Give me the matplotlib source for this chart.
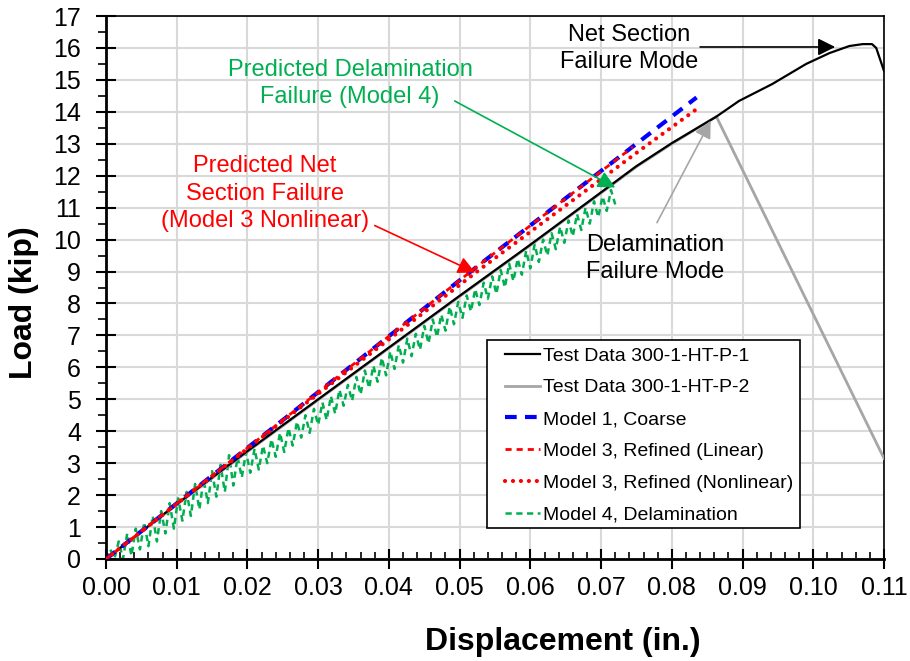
import matplotlib
matplotlib.use("Agg")
import matplotlib.pyplot as plt
from matplotlib.ticker import MultipleLocator, FormatStrFormatter
from matplotlib.patches import Rectangle

plt.rcParams['font.family'] = ['Liberation Sans', 'DejaVu Sans']

# ---- data ----
test1_x = [0, 0.01, 0.02, 0.03, 0.04, 0.05, 0.06, 0.07, 0.075, 0.08, 0.0863,
           0.0895, 0.0942, 0.099, 0.1023, 0.1051, 0.107, 0.1083, 0.1089, 0.11]
test1_y = [0, 1.72, 3.38, 5.00, 6.62, 8.24, 9.84, 11.48, 12.30, 13.02, 13.85,
           14.34, 14.87, 15.50, 15.84, 16.06, 16.12, 16.12, 16.00, 15.28]

test2_x = [0, 0.01, 0.02, 0.03, 0.04, 0.05, 0.06, 0.07, 0.075, 0.08, 0.0863, 0.11]
test2_y = [0, 1.70, 3.36, 4.98, 6.60, 8.22, 9.82, 11.46, 12.28, 13.00, 13.85, 3.15]

m1_x = [0, 0.025, 0.053, 0.0835]
m1_y = [0, 4.35, 9.25, 14.45]

m3lin_x = [0, 0.025, 0.053, 0.0745]
m3lin_y = [0, 4.35, 9.25, 12.90]

m3nl_x = [0, 0.025, 0.053, 0.0754, 0.0836]
m3nl_y = [0, 4.32, 9.09, 12.78, 14.10]

m4_x = [0.0000, 0.0006, 0.0012, 0.0018, 0.0024, 0.0030, 0.0036, 0.0042, 0.0048, 0.0054,
        0.0060, 0.0066, 0.0072, 0.0078, 0.0084, 0.0090, 0.0096, 0.0102, 0.0108, 0.0114,
        0.0120, 0.0126, 0.0132, 0.0138, 0.0144, 0.0150, 0.0156, 0.0162, 0.0168, 0.0174,
        0.0180, 0.0186, 0.0192, 0.0198, 0.0204, 0.0210, 0.0216, 0.0222, 0.0228, 0.0234,
        0.0240, 0.0246, 0.0252, 0.0258, 0.0264, 0.0270, 0.0276, 0.0282, 0.0288, 0.0294,
        0.0300, 0.0306, 0.0312, 0.0318, 0.0324, 0.0330, 0.0336, 0.0342, 0.0348, 0.0354,
        0.0360, 0.0366, 0.0372, 0.0378, 0.0384, 0.0390, 0.0396, 0.0402, 0.0408, 0.0414,
        0.0420, 0.0426, 0.0432, 0.0438, 0.0444, 0.0450, 0.0456, 0.0462, 0.0468, 0.0474,
        0.0480, 0.0486, 0.0492, 0.0498, 0.0504, 0.0510, 0.0516, 0.0522, 0.0528, 0.0534,
        0.0540, 0.0546, 0.0552, 0.0558, 0.0564, 0.0570, 0.0576, 0.0582, 0.0588, 0.0594,
        0.0600, 0.0606, 0.0612, 0.0618, 0.0624, 0.0630, 0.0636, 0.0642, 0.0648, 0.0654,
        0.0660, 0.0666, 0.0672, 0.0678, 0.0684, 0.0690, 0.0696, 0.0702, 0.0708, 0.0714,
        0.0720]
m4_y = [0.00, 0.30, 0.02, 0.55, 0.00, 0.80, 0.10, 0.95, 0.30, 1.15,
        0.40, 1.35, 0.55, 1.50, 0.80, 1.75, 0.95, 1.90, 1.20, 2.10,
        1.35, 2.35, 1.55, 2.50, 1.75, 2.75, 1.95, 2.95, 2.10, 3.25,
        2.30, 3.20, 2.55, 3.35, 2.70, 3.45, 2.80, 3.55, 3.00, 3.75,
        3.20, 3.95, 3.35, 4.10, 3.55, 4.30, 3.80, 4.50, 3.95, 4.70,
        4.20, 4.90, 4.35, 5.10, 4.55, 5.30, 4.80, 5.45, 4.95, 5.70,
        5.15, 5.90, 5.35, 6.05, 5.55, 6.30, 5.75, 6.50, 5.95, 6.70,
        6.15, 6.90, 6.35, 7.05, 6.55, 7.30, 6.75, 7.50, 6.95, 7.65,
        7.15, 7.90, 7.35, 8.05, 7.55, 8.25, 7.75, 8.45, 7.95, 8.65,
        8.15, 8.85, 8.30, 9.05, 8.50, 9.25, 8.70, 9.40, 8.90, 9.65,
        9.10, 9.85, 9.30, 10.00, 9.50, 10.20, 9.70, 10.40, 9.90, 10.60,
        10.10, 10.80, 10.30, 11.00, 10.50, 11.20, 10.70, 11.35, 10.90, 11.55,
        11.10]

labels = ["Test Data 300-1-HT-P-1", "Test Data 300-1-HT-P-2", "Model 1, Coarse",
          "Model 3, Refined (Linear)", "Model 3, Refined (Nonlinear)", "Model 4, Delamination"]

# ---- figure ----
fig = plt.figure(figsize=(9.1, 6.61), dpi=100)
ax = fig.add_axes([106/910, 1-559/661, (884-106)/910, (559-16)/661])

l2, = ax.plot(test2_x, test2_y, color='#A6A6A6', lw=2.0, zorder=3)
l1, = ax.plot(test1_x, test1_y, color='black', lw=1.6, zorder=4)
l6, = ax.plot(m4_x, m4_y, color='#00B050', lw=1.8, dashes=(2.5, 1.8), zorder=2)
l3, = ax.plot(m1_x, m1_y, color='#0000FF', lw=3.0, dashes=(2.8, 2.0), zorder=5)
l4, = ax.plot(m3lin_x, m3lin_y, color='#FF0000', lw=2.0, dashes=(2.2, 1.8), zorder=6)
l5, = ax.plot(m3nl_x, m3nl_y, color='#FF0000', lw=3.0, linestyle=(0, (0.01, 1.9)),
              dash_capstyle='round', solid_capstyle='round', zorder=6)

ax.set_xlim(0, 0.11)
ax.set_ylim(0, 17)
ax.xaxis.set_major_locator(MultipleLocator(0.01))
ax.xaxis.set_minor_locator(MultipleLocator(0.002))
ax.yaxis.set_major_locator(MultipleLocator(1))
ax.yaxis.set_minor_locator(MultipleLocator(0.5))
ax.xaxis.set_major_formatter(FormatStrFormatter('%.2f'))
ax.grid(True, which='major', color='#D9D9D9', lw=1.5, zorder=0)
ax.set_axisbelow(True)

ax.tick_params(axis='x', which='major', direction='inout', length=14, width=1.5,
               labelsize=18, pad=5)
ax.tick_params(axis='x', which='minor', direction='in', length=5, width=1.2)
ax.tick_params(axis='y', which='major', direction='inout', length=14, width=1.5,
               labelsize=18, pad=11)
ax.tick_params(axis='y', which='minor', direction='out', length=6, width=1.2)
for s in ['left', 'bottom']:
    ax.spines[s].set_linewidth(2)
for s in ['top', 'right']:
    ax.spines[s].set_linewidth(1.2)

fig.text(563/910, 1-642/661, "Displacement (in.)", fontsize=23, fontweight='bold',
         ha='center', va='center')
fig.text(24/910, 1-303/661, "Load (kip)", fontsize=23, fontweight='bold',
         ha='center', va='center', rotation=90)

# legend (frame drawn separately)
leg = ax.legend([l1, l2, l3, l4, l5, l6], labels, loc='upper left',
                bbox_to_anchor=((505-106)/778, (559-347)/543), fontsize=14,
                frameon=False, handlelength=1.8, handletextpad=0.15,
                labelspacing=0.73, borderpad=0, borderaxespad=0)
leg.set_zorder(10)
ax.add_patch(Rectangle(((487-106)/778, (559-528)/543), (800-487)/778, (528-340)/543,
                       transform=ax.transAxes, facecolor='white', edgecolor='black',
                       lw=1.2, zorder=9))

# annotations
def arrow(tail, head, color):
    ax.annotate('', xy=head, xytext=tail,
                arrowprops=dict(arrowstyle='-|>', color=color, lw=1.2,
                                mutation_scale=26, shrinkA=0, shrinkB=0),
                zorder=8)

ax.text(0.0740, 15.97, "Net Section\nFailure Mode", fontsize=17, ha='center',
        va='center', color='black', linespacing=1.3)
arrow((0.0840, 16.03), (0.1031, 16.03), 'black')

ax.text(0.0776, 9.41, "Delamination\nFailure Mode", fontsize=17, ha='center',
        va='center', color='black', linespacing=1.3)
arrow((0.0779, 10.53), (0.0855, 13.72), '#A6A6A6')

ax.text(0.0345, 14.9, "Predicted Delamination\nFailure (Model 4)", fontsize=17,
        ha='center', va='center', color='#00B050', linespacing=1.3)
arrow((0.0493, 14.34), (0.0720, 11.63), '#00B050')

ax.text(0.0225, 11.44, "Predicted Net\nSection Failure\n(Model 3 Nonlinear)",
        fontsize=17, ha='center', va='center', color='#FF0000', linespacing=1.3)
arrow((0.0380, 10.44), (0.0522, 8.97), '#FF0000')

fig.savefig("out.png", dpi=100)
